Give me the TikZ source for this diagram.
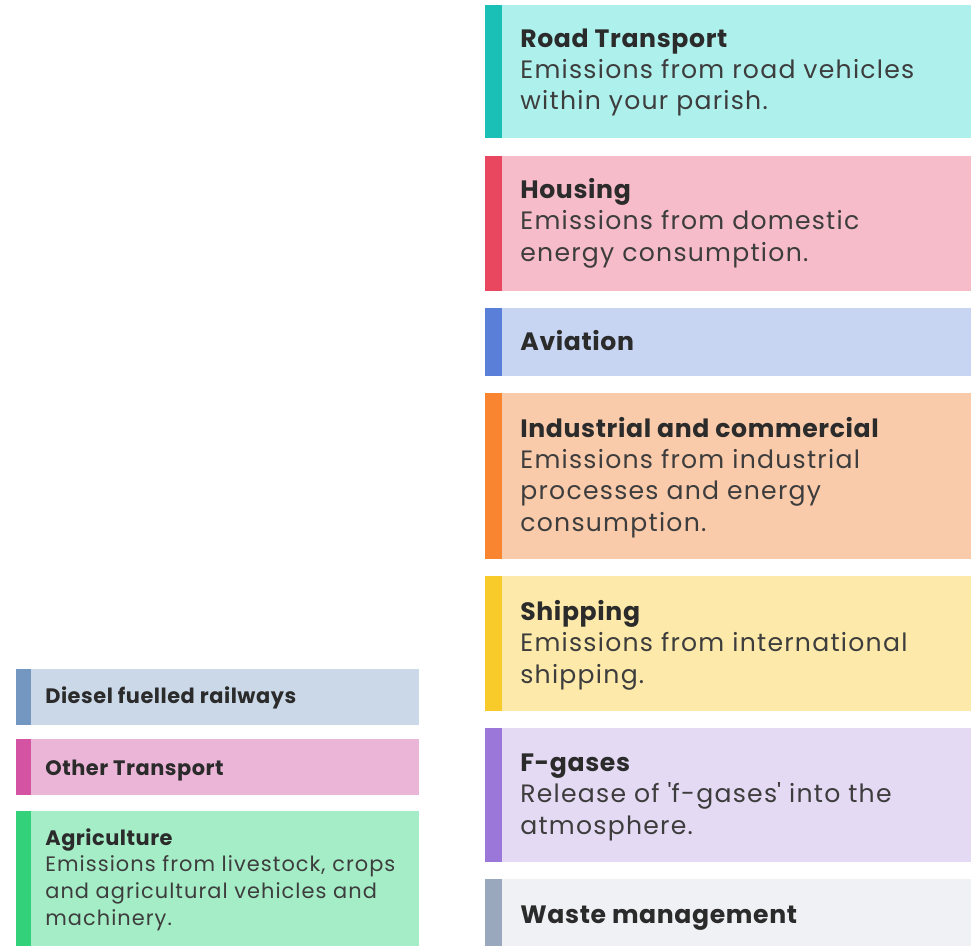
\documentclass[tikz,border=0pt]{standalone}
\usepackage{fontspec}
\setmainfont{Poppins}[LetterSpace=5,BoldFeatures={LetterSpace=2.5}]

\definecolor{roadbg}{HTML}{AEF0EC}
\definecolor{roadbar}{HTML}{1ABFB5}
\definecolor{housebg}{HTML}{F7BCCA}
\definecolor{housebar}{HTML}{E8475F}
\definecolor{aviabg}{HTML}{C8D5F2}
\definecolor{aviabar}{HTML}{5A7FD9}
\definecolor{indbg}{HTML}{FACBAB}
\definecolor{indbar}{HTML}{F98530}
\definecolor{shipbg}{HTML}{FDEAAA}
\definecolor{shipbar}{HTML}{F9CB2A}
\definecolor{fgasbg}{HTML}{E5DAF3}
\definecolor{fgasbar}{HTML}{9B77D9}
\definecolor{wastebg}{HTML}{F0F1F5}
\definecolor{wastebar}{HTML}{9AA8BD}
\definecolor{railbg}{HTML}{CBD8E8}
\definecolor{railbar}{HTML}{7497C1}
\definecolor{otherbg}{HTML}{EBB5D7}
\definecolor{otherbar}{HTML}{D454A3}
\definecolor{agribg}{HTML}{A5EDC7}
\definecolor{agribar}{HTML}{33D17A}
\definecolor{titlegrey}{HTML}{2B2B2B}
\definecolor{bodygrey}{HTML}{3D3D3D}

\newcommand{\cattitle}[1]{{\bfseries\color{titlegrey}#1}}

% nodes are anchored at the baseline of their last line
\tikzset{
  bigtxt/.style={anchor=base west,inner sep=0pt,align=left,text=bodygrey,
    font=\fontsize{14.3}{17.8}\selectfont},
  smalltxt/.style={anchor=base west,inner sep=0pt,align=left,text=bodygrey,
    font=\fontsize{11.9}{15.1}\selectfont}
}

\begin{document}
\begin{tikzpicture}[x=0.02cm,y=-0.02cm]
    \useasboundingbox (0,0) rectangle (971,946);
    % right column
    \fill[roadbg] (485,5) rectangle (971,138);
    \fill[roadbar] (485,5) rectangle (502,138);
    \node[bigtxt] (road) at (520,110) {\cattitle{Road Transport}\\Emissions from road vehicles\\within your parish.};
    \fill[housebg] (485,156) rectangle (971,291);
    \fill[housebar] (485,156) rectangle (502,291);
    \node[bigtxt] (housing) at (520,261) {\cattitle{Housing}\\Emissions from domestic\\energy consumption.};
    \fill[aviabg] (485,308) rectangle (971,376);
    \fill[aviabar] (485,308) rectangle (502,376);
    \node[bigtxt] (aviation) at (520,350) {\cattitle{Aviation}};
    \fill[indbg] (485,393) rectangle (971,559);
    \fill[indbar] (485,393) rectangle (502,559);
    \node[bigtxt] (industry) at (520,531) {\cattitle{Industrial and commercial}\\Emissions from industrial\\processes and energy\\consumption.};
    \fill[shipbg] (485,576) rectangle (971,711);
    \fill[shipbar] (485,576) rectangle (502,711);
    \node[bigtxt] (shipping) at (520,683) {\cattitle{Shipping}\\Emissions from international\\shipping.};
    \fill[fgasbg] (485,728) rectangle (971,862);
    \fill[fgasbar] (485,728) rectangle (502,862);
    \node[bigtxt] (fgases) at (520,834) {\cattitle{F-gases}\\Release of \textquotesingle f-gases\textquotesingle{} into the\\atmosphere.};
    \fill[wastebg] (485,879) rectangle (971,946);
    \fill[wastebar] (485,879) rectangle (502,946);
    \node[bigtxt] (waste) at (520,923) {\cattitle{Waste management}};
    % left column
    \fill[railbg] (16,669) rectangle (419,725);
    \fill[railbar] (16,669) rectangle (31,725);
    \node[smalltxt] (rail) at (45,703) {\cattitle{Diesel fuelled railways}};
    \fill[otherbg] (16,739) rectangle (419,795);
    \fill[otherbar] (16,739) rectangle (31,795);
    \node[smalltxt] (other) at (45,775) {\cattitle{Other Transport}};
    \fill[agribg] (16,811) rectangle (419,946);
    \fill[agribar] (16,811) rectangle (31,946);
    \node[smalltxt] (agri) at (45,925) {\cattitle{Agriculture}\\Emissions from livestock, crops\\and agricultural vehicles and\\machinery.};
\end{tikzpicture}
\end{document}
